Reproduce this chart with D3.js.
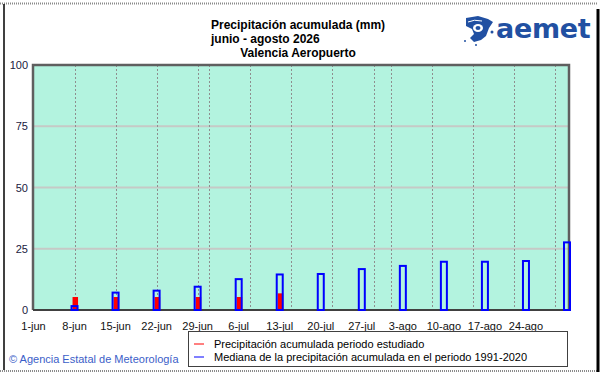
<!DOCTYPE html>
<html>
<head>
<meta charset="utf-8">
<script src="https://cdn.jsdelivr.net/npm/d3@7"></script>
<style>
  body { margin: 0; background: #fff; }
  svg { display: block; font-family: "Liberation Sans", Arial, sans-serif; }
</style>
</head>
<body>
<script>
// semanas (fecha de cada barra)
const weekDates = ["2026-06-08","2026-06-15","2026-06-22","2026-06-29","2026-07-06","2026-07-13",
  "2026-07-20","2026-07-27","2026-08-03","2026-08-10","2026-08-17","2026-08-24","2026-08-31"];
// mediana 1991-2020 (mm)
const medianValues = [1.6, 7.1, 7.9, 9.5, 12.6, 14.5, 14.7, 16.7, 18.0, 19.7, 19.7, 20.0, 27.6];
// precipitacion acumulada periodo estudiado (mm)
const observedValues = [5.3, 5.3, 5.3, 5.3, 5.3, 6.8];
const tickLabels = ["1-jun","8-jun","15-jun","22-jun","29-jun","6-jul","13-jul","20-jul","27-jul","3-ago","10-ago","17-ago","24-ago"];
const yTicks = [0, 25, 50, 75, 100];

const W = 601, H = 374;
const parse = d3.timeParse("%Y-%m-%d");
const dates = weekDates.map(parse);

const svg = d3.select("body").append("svg").attr("width", W).attr("height", H);

// marco
svg.append("line").attr("x1", 0).attr("x2", 598).attr("y1", 3.5).attr("y2", 3.5)
  .attr("stroke", "#8a8a8a").attr("stroke-width", 2).attr("stroke-dasharray", "1,1");
svg.append("line").attr("x1", 0).attr("x2", 598).attr("y1", 371).attr("y2", 371)
  .attr("stroke", "#8a8a8a").attr("stroke-width", 2).attr("stroke-dasharray", "1,1");
svg.append("line").attr("x1", 4).attr("x2", 4).attr("y1", 4).attr("y2", 370)
  .attr("stroke", "#000").attr("stroke-width", 1.5);
svg.append("line").attr("x1", 598).attr("x2", 598).attr("y1", 9).attr("y2", 372)
  .attr("stroke", "#000").attr("stroke-width", 3);

const x = d3.scaleTime()
  .domain([parse("2026-06-01"), parse("2026-08-31")])
  .range([33.5, 567]);
const y = d3.scaleLinear().domain([0, 100]).range([310, 65]);

const pLeft = 33, pRight = 569, pTop = 65, pBottom = 310;

// fondo
svg.append("rect").attr("x", pLeft).attr("y", pTop).attr("width", pRight - pLeft).attr("height", pBottom - pTop)
  .attr("fill", "#b3f3df");

// rejilla horizontal
svg.selectAll(".hgrid").data(yTicks.filter(d => d > 0 && d < 100)).enter().append("line")
  .attr("x1", pLeft).attr("x2", pRight).attr("y1", d => y(d)).attr("y2", d => y(d))
  .attr("stroke", "#c6c9c6").attr("stroke-width", 2);

// rejilla vertical discontinua
const weekTicks = d3.timeDay.every(7).range(parse("2026-06-01"), parse("2026-09-01")).slice(1);
svg.selectAll(".vgrid").data(weekTicks).enter().append("line")
  .attr("x1", d => Math.round(x(d)) + 0.5).attr("x2", d => Math.round(x(d)) + 0.5)
  .attr("y1", pTop).attr("y2", pBottom)
  .attr("stroke", "#8e8e8e").attr("stroke-width", 1).attr("stroke-dasharray", "2,2");

// borde del grafico
svg.append("path")
  .attr("d", `M${pLeft},${pBottom} V${pTop} H${pRight} V${pBottom}`)
  .attr("fill", "none").attr("stroke", "#5f5f5f").attr("stroke-width", 2.5);
svg.append("line").attr("x1", pLeft).attr("x2", pRight).attr("y1", pBottom).attr("y2", pBottom)
  .attr("stroke", "#404040").attr("stroke-width", 2);

// barras rojas (observado)
svg.selectAll(".obs").data(observedValues).enter().append("rect")
  .attr("x", (d, i) => x(dates[i]) - 2)
  .attr("width", 5.5)
  .attr("y", d => y(d))
  .attr("height", d => y(0) - y(d))
  .attr("fill", "#ff0000");

// barras azules (mediana)
svg.selectAll(".med").data(medianValues).enter().append("rect")
  .attr("x", (d, i) => x(dates[i]) - 3)
  .attr("width", 6)
  .attr("y", d => y(d))
  .attr("height", d => y(0) - y(d))
  .attr("fill", "none")
  .attr("stroke", "#0000ff").attr("stroke-width", 2);

// eje y
svg.selectAll(".ylab").data(yTicks).enter().append("text")
  .attr("x", 28).attr("y", d => y(d) + 4)
  .attr("text-anchor", "end").attr("font-size", 11).attr("fill", "#202040")
  .text(d => d);

// eje x
const tickDates = tickLabels.map((t, i) => d3.timeDay.offset(parse("2026-06-01"), i * 7));
svg.selectAll(".xlab").data(tickLabels).enter().append("text")
  .attr("x", (d, i) => x(tickDates[i]))
  .attr("y", 330)
  .attr("text-anchor", "middle").attr("font-size", 11).attr("fill", "#111")
  .text(d => d);

// titulo
const title = svg.append("g").attr("font-weight", "bold").attr("font-size", 12).attr("fill", "#000");
title.append("text").attr("x", 211).attr("y", 29).text("Precipitación acumulada (mm)");
title.append("text").attr("x", 211).attr("y", 43).text("junio - agosto 2026");
title.append("text").attr("x", 298).attr("y", 57).attr("text-anchor", "middle").text("Valencia Aeropuerto");

// logo
const logo = svg.append("g").attr("fill", "#2150a2");
logo.append("text").attr("x", 496).attr("y", 38).attr("font-size", 27).attr("font-weight", "bold")
  .attr("font-family", "DejaVu Sans").attr("letter-spacing", -0.3).text("aemet");
logo.append("path")
  .attr("d", "M466,18 L478,16 L488,19 L493,22 L489,28 L486,36 L481,40 L474,42 L470,38 L474,34 L472,29 L466,26 Z");
logo.append("ellipse").attr("cx", 478).attr("cy", 28).attr("rx", 5).attr("ry", 4).attr("fill", "#fff");
logo.append("ellipse").attr("cx", 478).attr("cy", 28).attr("rx", 2.5).attr("ry", 2);
logo.append("path").attr("d", "M468,22 Q474,19 482,21").attr("fill", "none").attr("stroke", "#fff").attr("stroke-width", 1);
logo.append("circle").attr("cx", 492).attr("cy", 32).attr("r", 1.5);
logo.append("circle").attr("cx", 465).attr("cy", 41).attr("r", 1);
logo.append("circle").attr("cx", 476).attr("cy", 45).attr("r", 1);

// leyenda
svg.append("rect").attr("x", 188.5).attr("y", 331.5).attr("width", 379).attr("height", 35)
  .attr("fill", "#fff").attr("stroke", "#404040").attr("stroke-width", 1);
const legendItems = [
  {label: "Precipitación acumulada periodo estudiado", color: "#ff0000"},
  {label: "Mediana de la precipitación acumulada en el periodo 1991-2020", color: "#0000ff"}
];
const lg = svg.selectAll(".leg").data(legendItems).enter().append("g")
  .attr("transform", (d, i) => `translate(194,${344 + i * 13})`);
lg.append("line").attr("x1", 0).attr("x2", 10).attr("y1", 0).attr("y2", 0)
  .attr("stroke", d => d.color).attr("stroke-width", 1);
lg.append("text").attr("x", 20).attr("y", 4).attr("font-size", 11).attr("fill", "#000").text(d => d.label);

// pie
svg.append("text").attr("x", 9).attr("y", 363).attr("font-size", 11).attr("fill", "#3b5ec8")
  .text("© Agencia Estatal de Meteorología");
</script>
</body>
</html>
